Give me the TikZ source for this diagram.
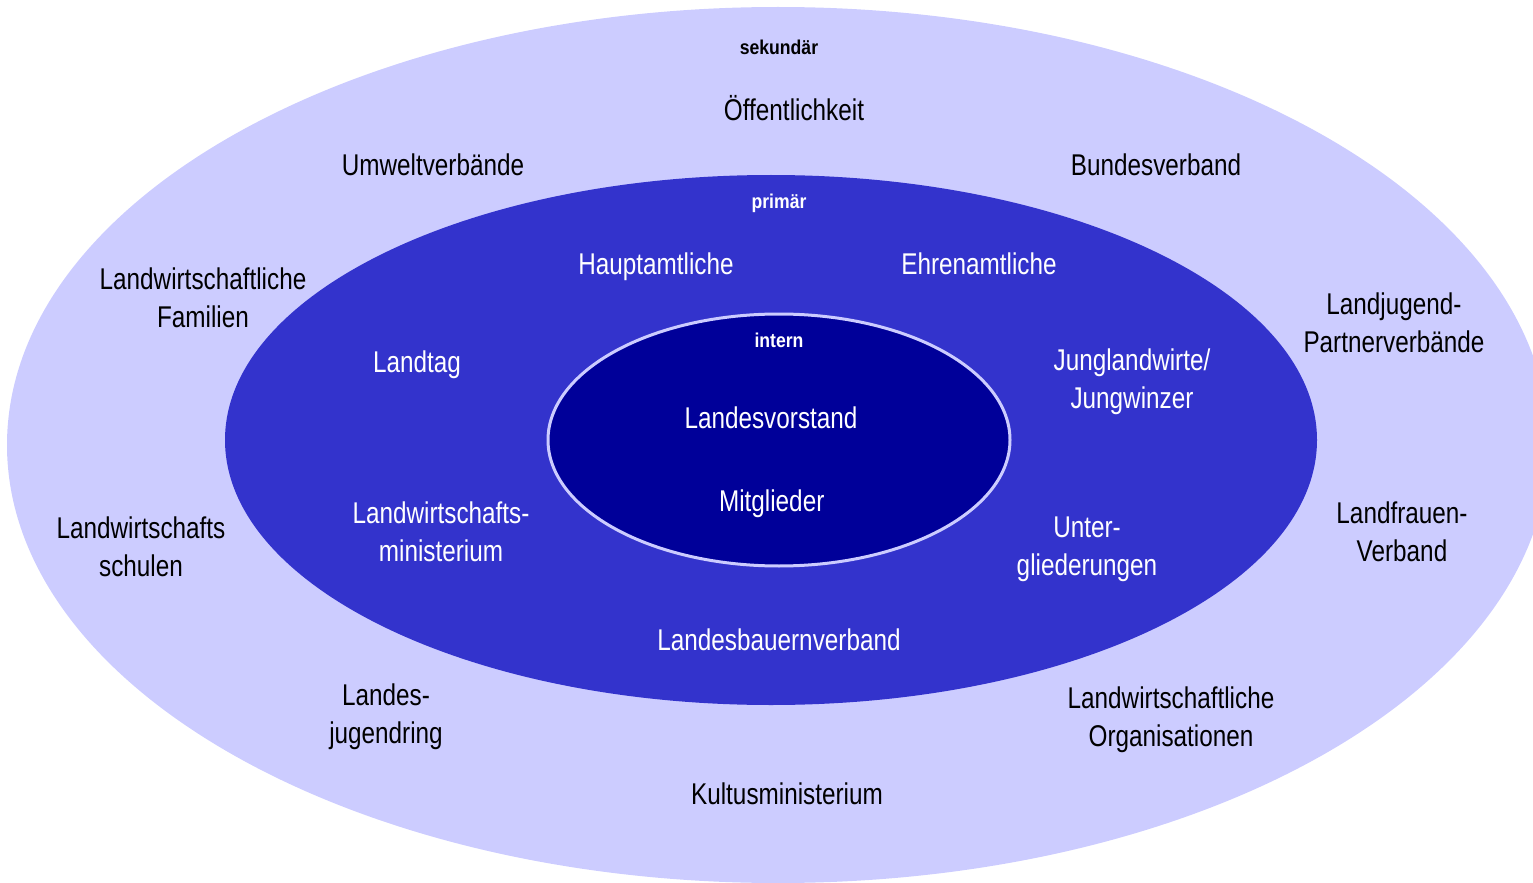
\documentclass[tikz,border=0pt]{standalone}
\usepackage{fontspec}
\setmainfont{Liberation Sans}
\newfontfamily\condfont[FakeStretch=0.81]{Liberation Sans}
\newfontfamily\boldcond[FakeStretch=0.88]{Liberation Sans Bold}
\definecolor{outerc}{HTML}{CCCCFF}
\definecolor{midc}{HTML}{3333CC}
\definecolor{innerc}{HTML}{000099}
\definecolor{ringc}{HTML}{CCCCFF}
\begin{document}
\begin{tikzpicture}[x=0.5pt,y=-0.5pt,
  lbl/.style={inner sep=0pt, align=center, font=\condfont\fontsize{15}{19}\selectfont,
    execute at begin node=\strut, execute at end node=\strut},
  dark/.style={lbl, text=black},
  light/.style={lbl, text=white},
  ringlabel/.style={inner sep=0pt, anchor=base, font=\boldcond\fontsize{10}{12}\selectfont},
  outerzone/.style={fill=outerc},
  midzone/.style={fill=midc},
  innerzone/.style={fill=innerc, draw=ringc, line width=1.5pt}]
\useasboundingbox (0,0) rectangle (1533,883);
\clip (0,0) rectangle (1533,883);
\path[outerzone] (778,445) ellipse [x radius=385.5pt, y radius=219pt];
\path[midzone] (771,440) ellipse [x radius=273pt, y radius=132.5pt];
\path[innerzone] (779,440) ellipse [x radius=115.5pt, y radius=63pt];
% ring labels
\node[ringlabel, text=black] (sek) at (779,55) {sekundär};
\node[ringlabel, text=white] (prim) at (779,208) {primär};
\node[ringlabel, text=white] (int) at (779,347) {intern};
% secondary
\node[dark] (oeff) at (794,113) {Öffentlichkeit};
\node[dark] (umw) at (433,168) {Umweltverbände};
\node[dark] (bund) at (1156,168) {Bundesverband};
\node[dark] (lwfam) at (203,303) {Landwirtschaftliche\\Familien};
\node[dark] (ljug) at (1394,328) {Landjugend-\\Partnerverbände};
\node[dark] (lwsch) at (141,552) {Landwirtschafts\\schulen};
\node[dark] (lfrau) at (1402,537) {Landfrauen-\\Verband};
\node[dark] (ljr) at (386,719) {Landes-\\jugendring};
\node[dark] (lworg) at (1171,722) {Landwirtschaftliche\\Organisationen};
\node[dark] (kult) at (787,797) {Kultusministerium};
% primary
\node[light] (haupt) at (656,267) {Hauptamtliche};
\node[light] (ehren) at (979,267) {Ehrenamtliche};
\node[light] (ltag) at (417,365) {Landtag};
\node[light] (jung) at (1132,384) {Junglandwirte/\\Jungwinzer};
\node[light] (lwmin) at (441,537) {Landwirtschafts-\\ministerium};
\node[light] (unter) at (1087,552) {Unter-\\gliederungen};
\node[light] (lbv) at (779,643) {Landesbauernverband};
% internal
\node[light] (lvor) at (771,421) {Landesvorstand};
\node[light] (mitgl) at (771.7,504) {Mitglieder};
\end{tikzpicture}
\end{document}
